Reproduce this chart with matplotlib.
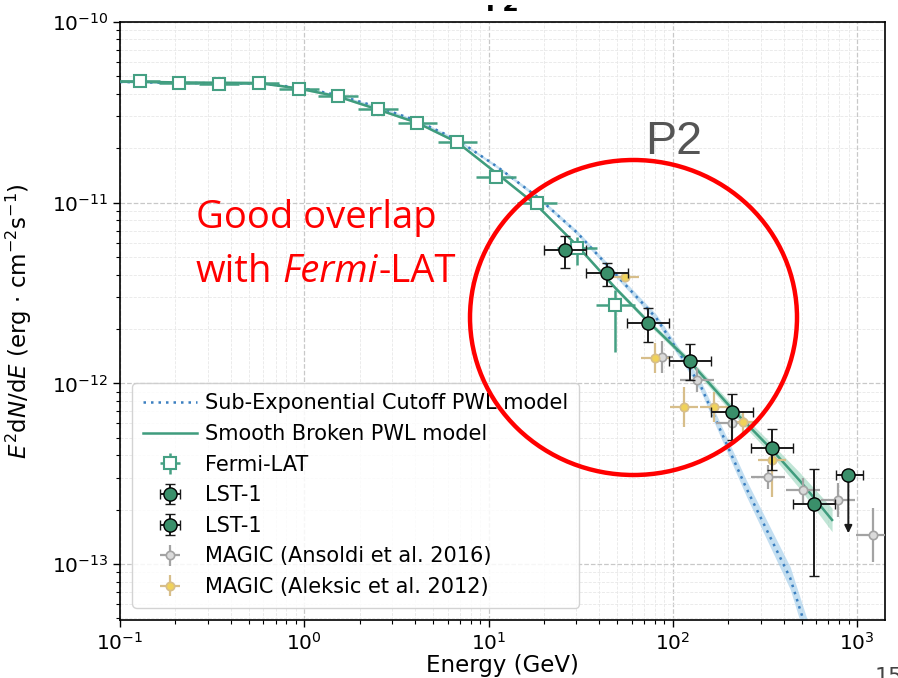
import numpy as np
import matplotlib
matplotlib.use("Agg")
import matplotlib.pyplot as plt
from matplotlib.patches import Ellipse, Rectangle

# ---------------- data ----------------
# Smooth broken power-law model (green) and its band half-width (dex)
sbpl_energy = [0.1, 0.214, 0.567, 0.934, 1.519, 2.503, 4.124, 6.79, 11.19, 18.43,
               30.37, 48.8, 73.7, 124.4, 207.6, 346.2, 491, 732]
sbpl_flux = [4.685e-11, 4.626e-11, 4.596e-11, 4.285e-11, 3.870e-11, 3.280e-11, 2.761e-11,
             2.153e-11, 1.441e-11, 9.59e-12, 5.76e-12, 3.37e-12, 2.19e-12, 1.313e-12,
             7.31e-13, 4.28e-13, 2.88e-13, 1.754e-13]
sbpl_band_dex = [0.005, 0.005, 0.005, 0.005, 0.005, 0.005, 0.005, 0.006, 0.008, 0.008,
                 0.009, 0.012, 0.014, 0.018, 0.024, 0.032, 0.045, 0.065]

# Sub-exponential cutoff power-law model (blue dotted) and band half-width (dex)
secpl_energy = [0.1, 0.214, 0.567, 0.934, 1.519, 2.503, 4.124, 6.79, 11.19, 18.43,
                30.37, 48.8, 81.4, 141.0, 250.3, 433.5, 542.6]
secpl_flux = [4.656e-11, 4.596e-11, 4.567e-11, 4.340e-11, 3.945e-11, 3.386e-11, 2.832e-11,
              2.223e-11, 1.576e-11, 1.075e-11, 6.80e-12, 4.03e-12, 2.30e-12, 9.80e-13,
              2.64e-13, 8.38e-14, 4.05e-14]
secpl_band_dex = [0.004, 0.004, 0.004, 0.004, 0.004, 0.005, 0.005, 0.006, 0.008, 0.010,
                  0.012, 0.015, 0.020, 0.030, 0.045, 0.062, 0.07]

# Fermi-LAT
fermi_energy = [0.129, 0.2096, 0.345, 0.569, 0.937, 1.525, 2.51, 4.11, 6.77, 11.0,
                18.37, 30.26, 48.8]
fermi_flux = [4.73e-11, 4.61e-11, 4.56e-11, 4.61e-11, 4.27e-11, 3.90e-11, 3.29e-11,
              2.77e-11, 2.17e-11, 1.38e-11, 9.93e-12, 5.60e-12, 2.72e-12]
fermi_flux_hi = [4.80e-11, 4.68e-11, 4.63e-11, 4.69e-11, 4.35e-11, 3.98e-11, 3.36e-11,
                 2.84e-11, 2.24e-11, 1.44e-11, 1.05e-11, 6.49e-12, 3.29e-12]
fermi_flux_lo = [4.66e-11, 4.54e-11, 4.49e-11, 4.53e-11, 4.19e-11, 3.82e-11, 3.22e-11,
                 2.70e-11, 2.10e-11, 1.32e-11, 9.35e-12, 4.52e-12, 1.50e-12]
fermi_bin_dex = 0.107

# LST-1 (flux points)
lst_energy = [26.15, 44.0, 73.4, 124.4, 209.4, 347.5, 586.8]
lst_flux = [5.47e-12, 4.07e-12, 2.15e-12, 1.33e-12, 6.95e-13, 4.39e-13, 2.14e-13]
lst_flux_hi = [6.54e-12, 4.62e-12, 2.60e-12, 1.645e-12, 8.70e-13, 5.57e-13, 3.36e-13]
lst_flux_lo = [4.37e-12, 3.46e-12, 1.69e-12, 1.045e-12, 4.86e-13, 3.32e-13, 8.63e-14]
lst_bin_dex = 0.114

# LST-1 (upper limit)
lst_ul_energy = [897.0]
lst_ul_flux = [3.13e-13]
lst_ul_arrow_end = [1.48e-13]
lst_ul_bin_lo_dex = 0.069
lst_ul_bin_hi_dex = 0.081

# MAGIC (Ansoldi et al. 2016)
magic16_energy = [87.4, 135.3, 210.9, 328.1, 511.7, 791.7, 1225.0]
magic16_flux = [1.394e-12, 1.044e-12, 6.01e-13, 3.046e-13, 2.570e-13, 2.263e-13, 1.449e-13]
magic16_flux_hi = [1.709e-12, 1.216e-12, 7.28e-13, 3.55e-13, 3.01e-13, 2.81e-13, 2.04e-13]
magic16_flux_lo = [1.138e-12, 0.896e-12, 4.96e-13, 2.61e-13, 2.19e-13, 1.822e-13, 1.027e-13]
magic16_bin_dex = [0.06, 0.092, 0.092, 0.092, 0.092, 0.092, 0.092]

# MAGIC (Aleksic et al. 2012)
magic12_energy = [55.27, 80.4, 114.4, 166.4, 241.9, 346.2]
magic12_flux = [3.88e-12, 1.377e-12, 7.43e-13, 7.40e-13, 6.14e-13, 3.77e-13]
magic12_flux_hi = [4.14e-12, 1.667e-12, 9.59e-13, 8.96e-13, 7.07e-13, 4.57e-13]
magic12_flux_lo = [3.64e-12, 1.137e-12, 5.76e-13, 6.11e-13, 5.34e-13, 2.35e-13]
magic12_bin_dex = 0.076

x_limits = (0.1, 1418.0)
y_limits = (4.90e-14, 1e-10)

# ---------------- styling ----------------
c_sbpl = "#3f9c7d"
c_secpl = "#3b7fc0"
c_secpl_band = "#9ecae9"
c_fermi = "#45a083"
c_lst = "#3a8f6a"
c_m16 = "#a3a3a3"
c_m16_face = "#dadada"
c_m12 = "#d7be8a"
c_m12_face = "#f0d25a"


def xerr_from_dex(e, dex):
    e = np.asarray(e, float)
    d = np.broadcast_to(np.asarray(dex, float), e.shape)
    return np.vstack([e - e * 10 ** (-d), e * 10 ** d - e])


def yerr_from(f, lo, hi):
    f = np.asarray(f, float)
    return np.vstack([f - np.asarray(lo, float), np.asarray(hi, float) - f])


fig = plt.figure(figsize=(8.98, 6.78), dpi=100)
ax = fig.add_axes([0.1336, 0.0855, 0.8519, 0.8821])
ax.set_xscale("log")
ax.set_yscale("log")

# model bands + lines
se = np.asarray(secpl_energy)
sf = np.asarray(secpl_flux)
sd = np.asarray(secpl_band_dex)
ax.fill_between(se, sf * 10 ** (-sd), sf * 10 ** sd, color=c_secpl_band, alpha=0.6,
                lw=0, zorder=2)
be = np.asarray(sbpl_energy)
bf = np.asarray(sbpl_flux)
bd = np.asarray(sbpl_band_dex)
ax.fill_between(be, bf * 10 ** (-bd), bf * 10 ** bd, color="#8fd1b5", alpha=0.55,
                lw=0, zorder=2)
l_sec, = ax.plot(se, sf, ls=(0, (1, 2)), lw=1.8, color=c_secpl, zorder=3,
                 label="Sub-Exponential Cutoff PWL model")
l_sb, = ax.plot(be, bf, ls="-", lw=1.8, color=c_sbpl, zorder=3,
                label="Smooth Broken PWL model")

# Fermi-LAT
h_fermi = ax.errorbar(fermi_energy, fermi_flux,
                      xerr=xerr_from_dex(fermi_energy, fermi_bin_dex),
                      yerr=yerr_from(fermi_flux, fermi_flux_lo, fermi_flux_hi),
                      fmt="s", ms=8.8, mfc="white", mec=c_fermi, mew=1.5,
                      ecolor=c_fermi, elinewidth=1.8, capsize=0, zorder=5,
                      label="Fermi-LAT")

# MAGIC 2016
h_m16 = ax.errorbar(magic16_energy, magic16_flux,
                    xerr=xerr_from_dex(magic16_energy, magic16_bin_dex),
                    yerr=yerr_from(magic16_flux, magic16_flux_lo, magic16_flux_hi),
                    fmt="o", ms=6, mfc=c_m16_face, mec=c_m16, mew=1.2,
                    ecolor=c_m16, elinewidth=1.6, capsize=0, zorder=6,
                    label="MAGIC (Ansoldi et al. 2016)")
# MAGIC 2012
h_m12 = ax.errorbar(magic12_energy, magic12_flux,
                    xerr=xerr_from_dex(magic12_energy, magic12_bin_dex),
                    yerr=yerr_from(magic12_flux, magic12_flux_lo, magic12_flux_hi),
                    fmt="o", ms=6, mfc=c_m12_face, mec=c_m12, mew=1.2,
                    ecolor=c_m12, elinewidth=1.6, capsize=0, zorder=6,
                    label="MAGIC (Aleksic et al. 2012)")

# LST-1 points
h_lst = ax.errorbar(lst_energy, lst_flux,
                    xerr=xerr_from_dex(lst_energy, lst_bin_dex),
                    yerr=yerr_from(lst_flux, lst_flux_lo, lst_flux_hi),
                    fmt="o", ms=9.5, mfc=c_lst, mec="black", mew=1.0,
                    ecolor="#1a1a1a", elinewidth=1.4, capsize=3.5, capthick=1.4,
                    zorder=8, label="LST-1")
# LST-1 upper limit (horizontal bin + downward arrow)
ule = np.asarray(lst_ul_energy)
ulf = np.asarray(lst_ul_flux)
ax.errorbar(ule, ulf,
            xerr=np.vstack([ule - ule * 10 ** (-lst_ul_bin_lo_dex),
                            ule * 10 ** lst_ul_bin_hi_dex - ule]),
            fmt="o", ms=9.5, mfc=c_lst, mec="black", mew=1.0,
            ecolor="#1a1a1a", elinewidth=1.4, capsize=3.5, capthick=1.4, zorder=8)
for e, f, fe in zip(lst_ul_energy, lst_ul_flux, lst_ul_arrow_end):
    ax.annotate("", xy=(e, fe), xytext=(e, f), xycoords="data",
                arrowprops=dict(arrowstyle="-|>,head_length=0.45,head_width=0.22",
                                color="#1a1a1a", lw=1.4, shrinkA=0, shrinkB=0),
                zorder=7)

ax.set_xlim(*x_limits)
ax.set_ylim(*y_limits)

# grid
ax.grid(True, which="major", ls="--", lw=0.9, color="#c8c8c8", zorder=0)
ax.grid(True, which="minor", ls="--", lw=0.6, color="#e8e8e8", zorder=0)
ax.set_axisbelow(True)

ax.tick_params(which="major", labelsize=14.5, length=5, width=1.0, direction="out")
ax.tick_params(which="minor", length=3, width=0.8, direction="out")
for s in ax.spines.values():
    s.set_linewidth(1.2)

ax.set_xlabel("Energy (GeV)", fontsize=16.5)
ax.set_ylabel(r"$E^2\mathrm{d}N/\mathrm{d}E$ (erg $\cdot$ cm$^{-2}$s$^{-1}$)", fontsize=16.5)
ax.xaxis.set_label_coords(0.5, -0.056)
ax.yaxis.set_label_coords(-0.112, 0.5)
ax.set_title("P2", fontsize=17, fontweight="bold", pad=8)

leg = ax.legend(handles=[l_sec, l_sb, h_fermi, h_lst, h_lst, h_m16, h_m12],
                labels=["Sub-Exponential Cutoff PWL model", "Smooth Broken PWL model",
                        "Fermi-LAT", "LST-1", "LST-1",
                        "MAGIC (Ansoldi et al. 2016)", "MAGIC (Aleksic et al. 2012)"],
                loc="lower left", fontsize=15, labelspacing=0.51, handlelength=2.6,
                handletextpad=0.4, framealpha=0.85, edgecolor="#cccccc", fancybox=True,
                borderaxespad=0.6, borderpad=0.5)
leg.set_zorder(9)

# slide strip covering the top of the plot title (as in the reference crop)
fig.add_artist(Rectangle((0.0, 1 - 5 / 678), 1.0, 5 / 678, transform=fig.transFigure,
                         facecolor="white", edgecolor="none", zorder=30))

# annotations
fig.text(645 / 898, 1 - 154 / 678, "P2", fontsize=33.5, color="#555555",
         family="Liberation Sans", ha="left", va="baseline")
fig.text(196 / 898, 1 - 228 / 678, "Good overlap", fontsize=27.5, color="red",
         family="Open Sans", ha="left", va="baseline")
t_with = fig.text(196 / 898, 1 - 281.7 / 678, "with", fontsize=27.5, color="red",
                  family="Open Sans", ha="left", va="baseline")
t_fermi = ax.annotate("Fermi", xy=(1, 0), xycoords=t_with, xytext=(7.2, 0),
                      textcoords="offset points", fontsize=27.5, color="red",
                      family="Open Sans", fontstyle="italic", ha="left", va="bottom",
                      annotation_clip=False)
ax.annotate("-LAT", xy=(1, 0), xycoords=t_fermi, xytext=(0.5, 0),
            textcoords="offset points", fontsize=27.5, color="red",
            family="Open Sans", ha="left", va="bottom", annotation_clip=False)

ell = Ellipse((633.5 / 898, 1 - 317.5 / 678), 327 / 898, 315 / 678,
              transform=fig.transFigure, fill=False, edgecolor="#ff0000", lw=3.2,
              zorder=20, clip_on=False)
fig.add_artist(ell)

fig.text(875 / 898, 1 - 667 / 678, "15", fontsize=16, color="#444444",
         ha="left", va="top")

fig.savefig("out.png", dpi=100)
